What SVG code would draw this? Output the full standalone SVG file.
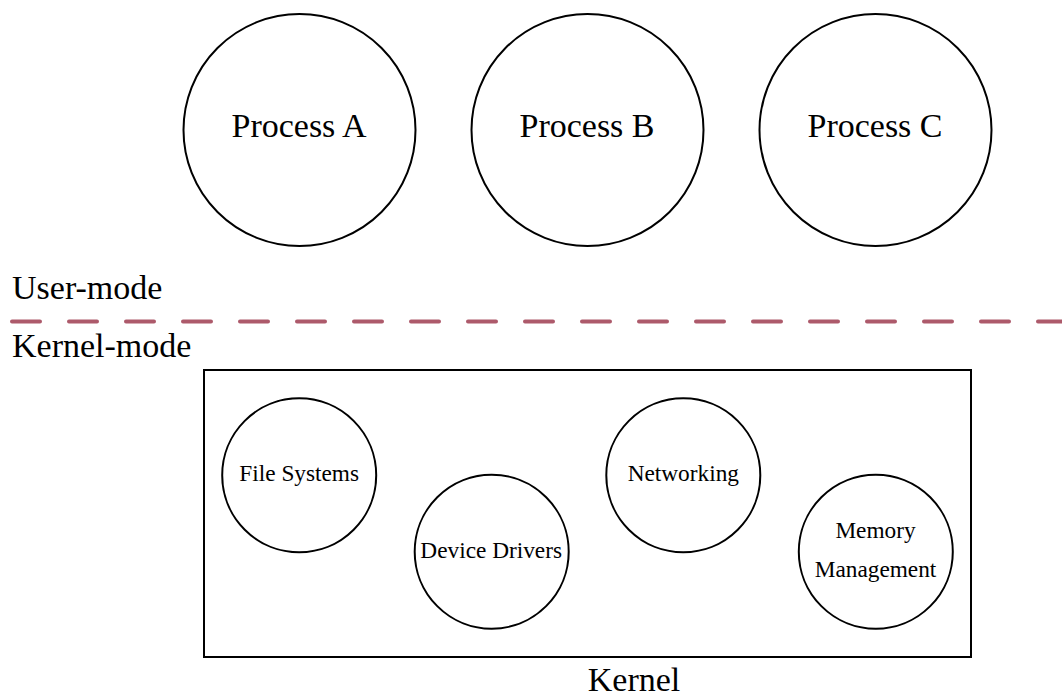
<svg xmlns="http://www.w3.org/2000/svg" width="1062" height="697" viewBox="0 0 1062 697">
  <style>
    .node { fill: #ffffff; stroke: #000000; stroke-width: 2; }
    .big { font-family: "Liberation Serif", "Times New Roman", serif; font-size: 34px; fill: #000000; }
    .small { font-family: "Liberation Serif", "Times New Roman", serif; font-size: 23.3px; fill: #000000; text-anchor: middle; }
    .mid { text-anchor: middle; }
    .divider { fill: none; stroke: #ad5a6b; stroke-width: 4; stroke-linecap: round; stroke-dasharray: 28 29; }
  </style>
  <rect width="1062" height="697" fill="#ffffff"/>

  <!-- user-space processes -->
  <g id="process-a">
    <circle class="node" cx="299.5" cy="130" r="116"/>
    <text class="big mid" x="299" y="137">Process A</text>
  </g>
  <g id="process-b">
    <circle class="node" cx="587.5" cy="130" r="116"/>
    <text class="big mid" x="587" y="137">Process B</text>
  </g>
  <g id="process-c">
    <circle class="node" cx="875.5" cy="130" r="116"/>
    <text class="big mid" x="875" y="137">Process C</text>
  </g>

  <!-- mode boundary -->
  <g id="connectors">
    <line class="divider" x1="12" y1="321.5" x2="1070" y2="321.5"/>
  </g>
  <text class="big" x="12" y="299">User-mode</text>
  <text class="big" x="12" y="357">Kernel-mode</text>

  <!-- kernel and its subsystems -->
  <g id="kernel">
    <rect class="node" x="204" y="370" width="767" height="287"/>
    <text class="big mid" x="634" y="691">Kernel</text>
  </g>
  <g id="file-systems">
    <circle class="node" cx="299.2" cy="475.3" r="77"/>
    <text class="small" x="299.2" y="480.7">File Systems</text>
  </g>
  <g id="device-drivers">
    <circle class="node" cx="491.7" cy="551.7" r="77"/>
    <text class="small" x="491.2" y="558.3">Device Drivers</text>
  </g>
  <g id="networking">
    <circle class="node" cx="683.3" cy="475.3" r="77"/>
    <text class="small" x="683.3" y="480.7">Networking</text>
  </g>
  <g id="memory-management">
    <circle class="node" cx="875.8" cy="551.7" r="77"/>
    <text class="small" x="875.5" y="538.3">Memory</text>
    <text class="small" x="875.5" y="576.7">Management</text>
  </g>
</svg>
